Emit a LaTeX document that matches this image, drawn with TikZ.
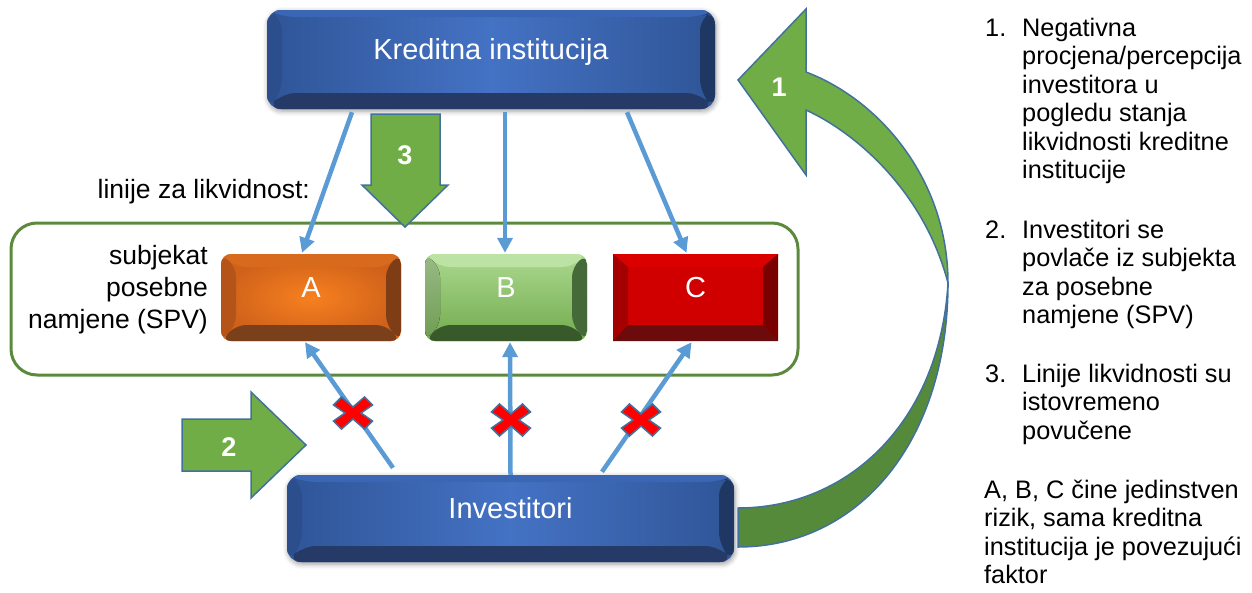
\documentclass[tikz,border=0pt]{standalone}
\usepackage{fontspec}
\setmainfont{Liberation Sans}
\usetikzlibrary{arrows.meta,shadows.blur}

\definecolor{kiFace}{HTML}{4472C4}
\definecolor{kiEdge}{HTML}{2F5597}
\definecolor{kiL}{HTML}{2C4E8C}
\definecolor{kiR}{HTML}{1F3763}
\definecolor{kiT}{HTML}{3A66B4}
\definecolor{kiB}{HTML}{253A66}
\definecolor{oFace}{HTML}{F7801F}
\definecolor{oEdge}{HTML}{CF611A}
\definecolor{oL}{HTML}{B45418}
\definecolor{oR}{HTML}{7E3D15}
\definecolor{oT}{HTML}{D86A1E}
\definecolor{oB}{HTML}{7A3F1B}
\definecolor{gTop}{HTML}{ABD88F}
\definecolor{gBot}{HTML}{72AB4C}
\definecolor{gL}{HTML}{6E9C52}
\definecolor{gR}{HTML}{46693A}
\definecolor{gT}{HTML}{BCE3A4}
\definecolor{gB}{HTML}{385A2B}
\definecolor{rFace}{HTML}{D00000}
\definecolor{rT}{HTML}{DA0000}
\definecolor{rL}{HTML}{A50000}
\definecolor{rR}{HTML}{7A0000}
\definecolor{rB}{HTML}{6B0B0B}
\definecolor{arrowFill}{HTML}{70AD47}
\definecolor{arrowDark}{HTML}{558A3A}
\definecolor{arrowLine}{HTML}{41719C}
\definecolor{frameGreen}{HTML}{5B8A3C}
\definecolor{linkBlue}{HTML}{5B9BD5}
\definecolor{crossRed}{HTML}{FF0000}

\tikzset{
  % bevel: side, top, bottom widths; left, right, top, bottom colours
  bevel/.style n args={7}{path picture={
    \path (path picture bounding box.north west) coordinate (bNW)
          (path picture bounding box.north east) coordinate (bNE)
          (path picture bounding box.south west) coordinate (bSW)
          (path picture bounding box.south east) coordinate (bSE);
    \path ([shift={(#1,-#2)}]bNW) coordinate (iNW)
          ([shift={(-#1,-#2)}]bNE) coordinate (iNE)
          ([shift={(#1,#3)}]bSW) coordinate (iSW)
          ([shift={(-#1,#3)}]bSE) coordinate (iSE);
    \fill[#6] (bNW) -- (bNE) -- (iNE) -- (iNW) -- cycle;
    \fill[#4] (bNW) -- (iNW) -- (iSW) -- (bSW) -- cycle;
    \fill[#5] (bNE) -- (iNE) -- (iSE) -- (bSE) -- cycle;
    \fill[#7] (bSW) -- (iSW) -- (iSE) -- (bSE) -- cycle;
  }},
  boxtext/.style={text=white, inner sep=0pt, text height=20pt, text depth=20pt,
    font=\fontsize{29}{34}\selectfont},
  bluebox/.style={rectangle, rounded corners=14pt, boxtext,
    left color=kiEdge, right color=kiEdge, middle color=kiFace,
    blur shadow={shadow xshift=1pt, shadow yshift=-2pt, shadow blur radius=5pt, shadow opacity=40},
    bevel={15pt}{7pt}{16pt}{kiL}{kiR}{kiT}{kiB}},
  spvbox/.style={rectangle, boxtext, minimum width=#1, minimum height=87pt},
  link/.style={draw=linkBlue, line width=4.5pt,
    -{Triangle[length=15pt,width=15pt]}},
  bigarrow/.style={fill=arrowFill, draw=arrowLine, line width=1.5pt, line join=miter},
  arrnum/.style={text=white, font=\bfseries\fontsize{27}{30}\selectfont, inner sep=0pt},
  coltext/.style={inner sep=0pt, align=left, font=\fontsize{25.3}{28.5}\selectfont},
  lbl/.style={inner sep=0pt, font=\fontsize{26.5}{32}\selectfont},
  redx/.pic={
    \fill[crossRed, draw=arrowLine, line width=1.5pt]
      (-19.5,-8) -- (-11.5,-16) -- (0,-6) -- (11.5,-16) -- (19.5,-8) -- (8,0)
      -- (19.5,8) -- (11.5,16) -- (0,6) -- (-11.5,16) -- (-19.5,8) -- (-8,0) -- cycle;
  }
}

\begin{document}
\begin{tikzpicture}[x=1pt,y=-1pt]
\useasboundingbox (0,0) rectangle (1252,592);

% special purpose vehicle frame
\draw[frameGreen, line width=3pt, rounded corners=26pt] (11,223) rectangle (798,375);

% SPV boxes
\node[spvbox=180pt, rounded corners=10pt, inner color=oFace, outer color=oEdge,
      bevel={15pt}{13pt}{16pt}{oL}{oR}{oT}{oB}] (a) at (311,297.5) {A};
\node[spvbox=162pt, rounded corners=10pt, top color=gTop, bottom color=gBot,
      bevel={15pt}{13pt}{16pt}{{top color=gL!70!white, bottom color=gL}}{gR}{gT}{gB}] (b) at (506,297.5) {B};
\node[spvbox=165pt, fill=rFace,
      bevel={15pt}{13pt}{16pt}{rL}{rR}{rT}{rB}] (c) at (695.5,297.5) {C};

% credit institution and investors
\node[bluebox, minimum width=448pt, minimum height=99pt] (ki) at (491,59.5) {Kreditna institucija};
\node[bluebox, minimum width=447pt, minimum height=87pt] (inv) at (510.5,518.5) {Investitori};

% liquidity lines
\draw[link] ([shift={(-139pt,-3pt)}]ki.south) -- ([shift={(-9pt,1pt)}]a.north);
\draw[link] ([shift={(14pt,-3pt)}]ki.south) -- ([shift={(-1pt,1pt)}]b.north);
\draw[link] ([shift={(136pt,-3pt)}]ki.south) -- ([shift={(-9pt,1pt)}]c.north);

% withdrawn investments
\draw[link] ([shift={(-117.5pt,7pt)}]inv.north) -- ([shift={(-6pt,-1pt)}]a.south);
\draw[link] ([shift={(0pt,0pt)}]inv.north) -- ([shift={(4pt,-1pt)}]b.south);
\draw[link] ([shift={(91.5pt,3pt)}]inv.north) -- ([shift={(-4pt,-1pt)}]c.south);

\pic at (353,413) {redx};
\pic at (511,420) {redx};
\pic at (641,420) {redx};

% step arrows
\path[bigarrow] (182,419) -- (251,419) -- (251,392) -- (306,445) -- (251,498)
  -- (251,471) -- (182,471) -- cycle;
\node[arrnum] (l2) at (229,447) {2};

\path[bigarrow] (371,114) -- (440,114) -- (440,185) -- (448,185) -- (405,227)
  -- (362,185) -- (371,185) -- cycle;
\node[arrnum] (l3) at (405,155) {3};

% curved feedback arrow
\path[bigarrow, fill=arrowDark] (948,283) .. controls (948,440) and (860,547) .. (738,547)
  -- (738,508) .. controls (850,508) and (940,420) .. (948,283) -- cycle;
\path[bigarrow] (806,72) .. controls (880,100) and (948,180) .. (948,283)
  .. controls (925,195) and (860,135) .. (806,110) -- (806,175) -- (738,80)
  -- (806,9) -- cycle;
\node[arrnum] (l1) at (779,87) {1};

% side labels (multi-line nodes sit on the baseline of their last line)
\node[lbl, anchor=base east] (lines) at (310,198) {linije za likvidnost:};
\node[lbl, anchor=base east, align=right] (spv) at (208,328) {subjekat\\posebne\\namjene (SPV)};

% legend
\node[coltext, anchor=base west] (n1) at (985,36) {1.};
\node[coltext, anchor=base west] (t1) at (1022,178.5) {Negativna\\procjena/percepcija\\investitora u\\pogledu stanja\\likvidnosti kreditne\\institucije};
\node[coltext, anchor=base west] (n2) at (985,238) {2.};
\node[coltext, anchor=base west] (t2) at (1022,323.5) {Investitori se\\povlače iz subjekta\\za posebne\\namjene (SPV)};
\node[coltext, anchor=base west] (n3) at (985,382) {3.};
\node[coltext, anchor=base west] (t3) at (1022,439) {Linije likvidnosti su\\istovremeno\\povučene};
\node[coltext, anchor=base west] (t4) at (984,583.5) {A, B, C čine jedinstven\\rizik, sama kreditna\\institucija je povezujući\\faktor};
\end{tikzpicture}
\end{document}
